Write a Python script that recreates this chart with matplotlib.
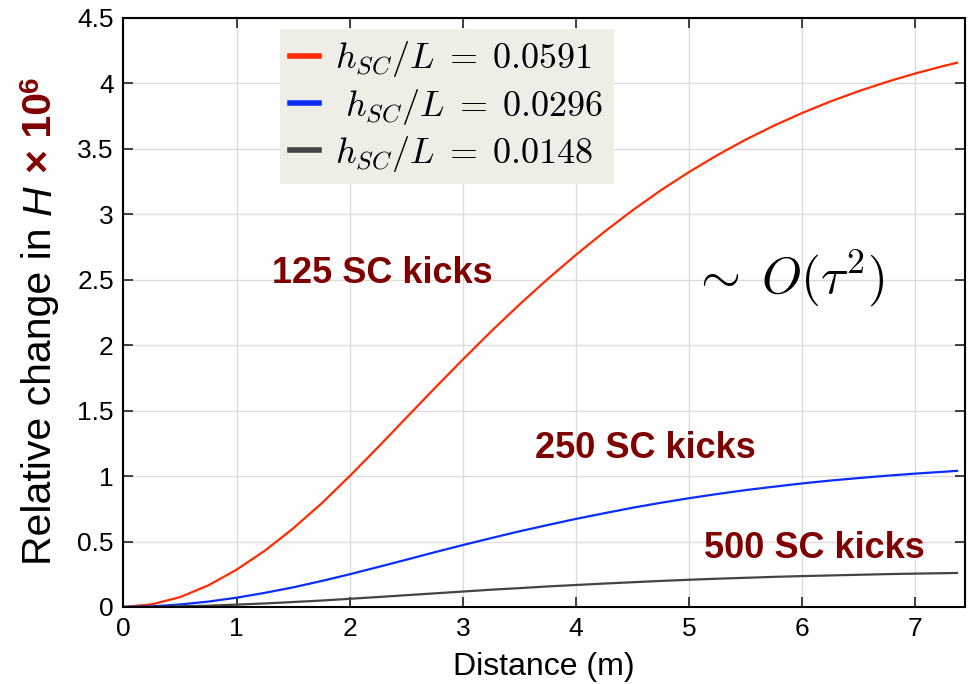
import numpy as np
import matplotlib

matplotlib.use('Agg')
import matplotlib.pyplot as plt
from matplotlib.ticker import FuncFormatter

plt.rcParams['font.family'] = ['Liberation Sans', 'DejaVu Sans']
plt.rcParams['mathtext.fontset'] = 'cm'

# distance along the line (m)
distance = [0.0, 0.25, 0.5, 0.75, 1.0, 1.25, 1.5, 1.75, 2.0, 2.25, 2.5, 2.75,
            3.0, 3.25, 3.5, 3.75, 4.0, 4.25, 4.5, 4.75, 5.0, 5.25, 5.5, 5.75,
            6.0, 6.25, 6.5, 6.75, 7.0, 7.25, 7.37]

# relative change in H (x 1e6)
h_0591 = [0.0, 0.02, 0.075, 0.165, 0.285, 0.43, 0.6, 0.79, 1.0, 1.22, 1.445, 1.67,
          1.89, 2.105, 2.31, 2.505, 2.69, 2.865, 3.03, 3.183, 3.323, 3.452, 3.57, 3.677,
          3.774, 3.862, 3.941, 4.012, 4.076, 4.133, 4.158]
h_0296 = [0.0, 0.005, 0.019, 0.041, 0.071, 0.108, 0.15, 0.198, 0.25, 0.305, 0.361, 0.418,
          0.473, 0.526, 0.578, 0.626, 0.673, 0.716, 0.758, 0.796, 0.831, 0.863, 0.893, 0.919,
          0.944, 0.966, 0.985, 1.003, 1.019, 1.033, 1.04]
h_0148 = [0.0, 0.001, 0.005, 0.01, 0.018, 0.027, 0.038, 0.049, 0.0625, 0.076, 0.09, 0.104,
          0.118, 0.132, 0.144, 0.157, 0.168, 0.179, 0.189, 0.199, 0.208, 0.216, 0.223, 0.23,
          0.236, 0.241, 0.246, 0.251, 0.255, 0.258, 0.26]

labels = [r'$h_{SC}/L\;=\;0.0591$', r' $h_{SC}/L\;=\;0.0296$', r'$h_{SC}/L\;=\;0.0148$']
colors = ['#ff2a00', '#0a2eff', '#444444']

fig = plt.figure(figsize=(9.77, 6.84), dpi=100)
ax = fig.add_axes([0.1264, 0.1126, 0.8613, 0.8611])

for ys, c, lab in zip([h_0591, h_0296, h_0148], colors, labels):
    ax.plot(distance, ys, color=c, lw=1.6, label=lab)

ax.set_xlim(0, 7.44)
ax.set_ylim(0, 4.5)
ax.set_xticks(range(8))
ax.set_yticks(np.arange(0, 4.51, 0.5))
ax.yaxis.set_major_formatter(FuncFormatter(lambda v, p: '%g' % v))
ax.grid(True, color='#dcdcdc', lw=1)
ax.set_axisbelow(True)
ax.tick_params(direction='in', top=True, right=True, length=7, width=1.2,
               labelsize=19, pad=7, color='#222222')
for s in ax.spines.values():
    s.set_linewidth(1.5)

ax.set_xlabel('Distance (m)', fontsize=23, labelpad=8)

leg = ax.legend(loc='upper left', bbox_to_anchor=(0.186, 0.981), borderaxespad=0,
                fontsize=26, handlelength=0.8, handletextpad=0.45, labelspacing=0.2,
                borderpad=0.28, fancybox=False, frameon=True, framealpha=1)
leg.get_frame().set_facecolor('#eeeee6')
leg.get_frame().set_edgecolor('none')
for h in leg.get_lines():
    h.set_linewidth(4)

dark = '#800000'
ax.text(2.285, 2.55, '125 SC kicks', color=dark, fontsize=26, fontweight='bold',
        ha='center', va='center')
ax.text(4.61, 1.21, '250 SC kicks', color=dark, fontsize=26, fontweight='bold',
        ha='center', va='center')
ax.text(6.11, 0.45, '500 SC kicks', color=dark, fontsize=26, fontweight='bold',
        ha='center', va='center')
ax.text(5.87, 2.52, r'$\sim\;O(\tau^2)$', fontsize=37, ha='center', va='center')

# y label built from pieces with different styles
renderer = fig.canvas.get_renderer()
fh = fig.bbox.height
fs = 29.5
x0 = 51 / 977
y = 1 - 565 / 684
pieces = [('Relative change in', dict(fontsize=fs), 0.30),
          ('H', dict(fontsize=fs, style='italic'), 0.30),
          ('\u00d7 10', dict(fontsize=fs, fontweight='bold', color=dark), 0.0)]
for txt, kw, gap in pieces:
    t = fig.text(x0, y, txt, rotation=90, rotation_mode='anchor', ha='left',
                 va='baseline', **kw)
    bb = t.get_window_extent(renderer)
    y += (bb.height + gap * fs * 100 / 72) / fh
fig.text(x0 - 13 / 977, y, '6', rotation=90, rotation_mode='anchor', ha='left',
         va='baseline', fontsize=20, fontweight='bold', color=dark)

plt.savefig('out.png', dpi=100)
